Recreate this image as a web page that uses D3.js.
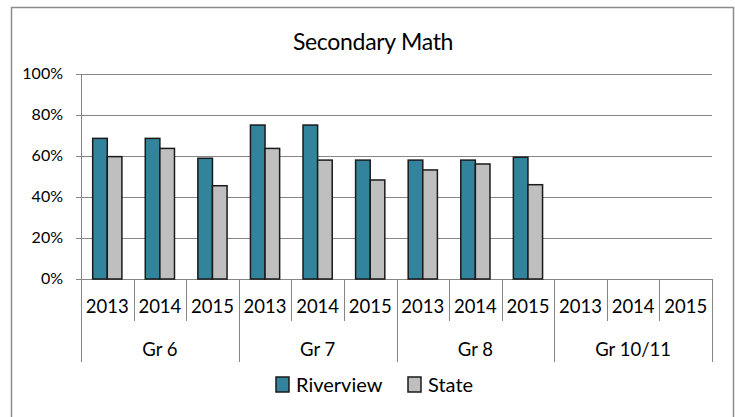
<!DOCTYPE html>
<html>
<head>
<meta charset="utf-8">
<script src="https://cdn.jsdelivr.net/npm/d3@7"></script>
<style>
  body { margin: 0; background: #fff; }
  svg text { font-family: Lato, "Open Sans", sans-serif; fill: #000; }
</style>
</head>
<body>
<svg id="chart" width="735" height="417"></svg>
<script>
const groups = ["Gr 6", "Gr 7", "Gr 8", "Gr 10/11"];
const years = ["2013", "2014", "2015"];
const seriesNames = ["Riverview", "State"];
// one value per group/year, null where nothing is reported
const riverview = [68.6, 68.6, 58.9, 75.1, 75.1, 58, 58, 58, 59.4, null, null, null];
const state = [59.7, 63.7, 45.5, 63.7, 58, 48.3, 53.2, 56.1, 46, null, null, null];
const yTicks = [0, 20, 40, 60, 80, 100];
const colors = ["#31849B", "#BFBFBF"];

const svg = d3.select("#chart");
const plotL = 81, plotR = 712, plotT = 74, plotB = 279;

// chart frame runs past the right and bottom edges of the picture
svg.append("rect")
  .attr("x", 11.5).attr("y", 7.5)
  .attr("width", 722).attr("height", 430)
  .attr("fill", "none").attr("stroke", "#8c8c8c").attr("stroke-width", 1.5);

svg.append("text")
  .attr("x", 373).attr("y", 50)
  .attr("text-anchor", "middle")
  .style("font-size", "23px")
  .style("letter-spacing", "-0.3px")
  .text("Secondary Math");

const cats = groups.flatMap(g => years.map(y => g + "|" + y));

const x = d3.scaleBand().domain(cats).range([plotL, plotR]);
const y = d3.scaleLinear().domain([0, 100]).range([plotB, plotT]);
const inner = d3.scaleBand().domain(seriesNames).range([0, x.bandwidth()]).paddingOuter(0.8);

// grid lines
svg.append("g")
  .selectAll("line")
  .data(yTicks)
  .join("line")
  .attr("x1", plotL - 5).attr("x2", plotR)
  .attr("y1", d => Math.round(y(d)) + 0.5).attr("y2", d => Math.round(y(d)) + 0.5)
  .attr("stroke", "#868686");

svg.append("g")
  .selectAll("text")
  .data(yTicks)
  .join("text")
  .attr("x", 63).attr("y", d => y(d) + 5)
  .attr("text-anchor", "end")
  .style("font-size", "16px")
  .text(d => d + "%");

svg.append("line")
  .attr("x1", plotL + 0.5).attr("x2", plotL + 0.5)
  .attr("y1", plotT).attr("y2", plotB)
  .attr("stroke", "#868686");

// bars
const rows = cats.map((c, i) => ({ cat: c, vals: [riverview[i], state[i]] }));
const barG = svg.append("g");
rows.forEach(r => {
  barG.selectAll(null)
    .data(r.vals.map((v, j) => ({ v, name: seriesNames[j], j })).filter(d => d.v != null))
    .join("rect")
    .attr("x", d => x(r.cat) + inner(d.name))
    .attr("width", inner.bandwidth())
    .attr("y", d => y(d.v))
    .attr("height", d => y(0) - y(d.v))
    .attr("fill", d => colors[d.j])
    .attr("stroke", "#1a1a1a")
    .attr("stroke-width", 1.5);
});

// category axis separators
const yearEnds = cats.map(c => x(c)).concat([plotR]);
svg.append("g")
  .selectAll("line")
  .data(yearEnds)
  .join("line")
  .attr("x1", d => Math.round(d) + 0.5).attr("x2", d => Math.round(d) + 0.5)
  .attr("y1", plotB).attr("y2", (d, i) => i % 3 === 0 ? 362 : 321)
  .attr("stroke", "#868686");

svg.append("g")
  .selectAll("text")
  .data(cats)
  .join("text")
  .attr("x", d => x(d) + x.bandwidth() / 2)
  .attr("y", 313)
  .attr("text-anchor", "middle")
  .style("font-size", "18.5px")
  .text(d => d.split("|")[1]);

svg.append("g")
  .selectAll("text")
  .data(groups)
  .join("text")
  .attr("x", g => x(g + "|2013") + x.bandwidth() * 1.5)
  .attr("y", 356)
  .attr("text-anchor", "middle")
  .style("font-size", "18.5px")
  .text(d => d);

// legend
const legend = svg.append("g");
const legendX = [276, 408];
seriesNames.forEach((name, i) => {
  legend.append("rect")
    .attr("x", legendX[i]).attr("y", 377)
    .attr("width", 13).attr("height", 15)
    .attr("fill", colors[i]).attr("stroke", "#1a1a1a").attr("stroke-width", 1.5);
  legend.append("text")
    .attr("x", legendX[i] + 20).attr("y", 392)
    .style("font-size", "20px")
    .text(name);
});
</script>
</body>
</html>
